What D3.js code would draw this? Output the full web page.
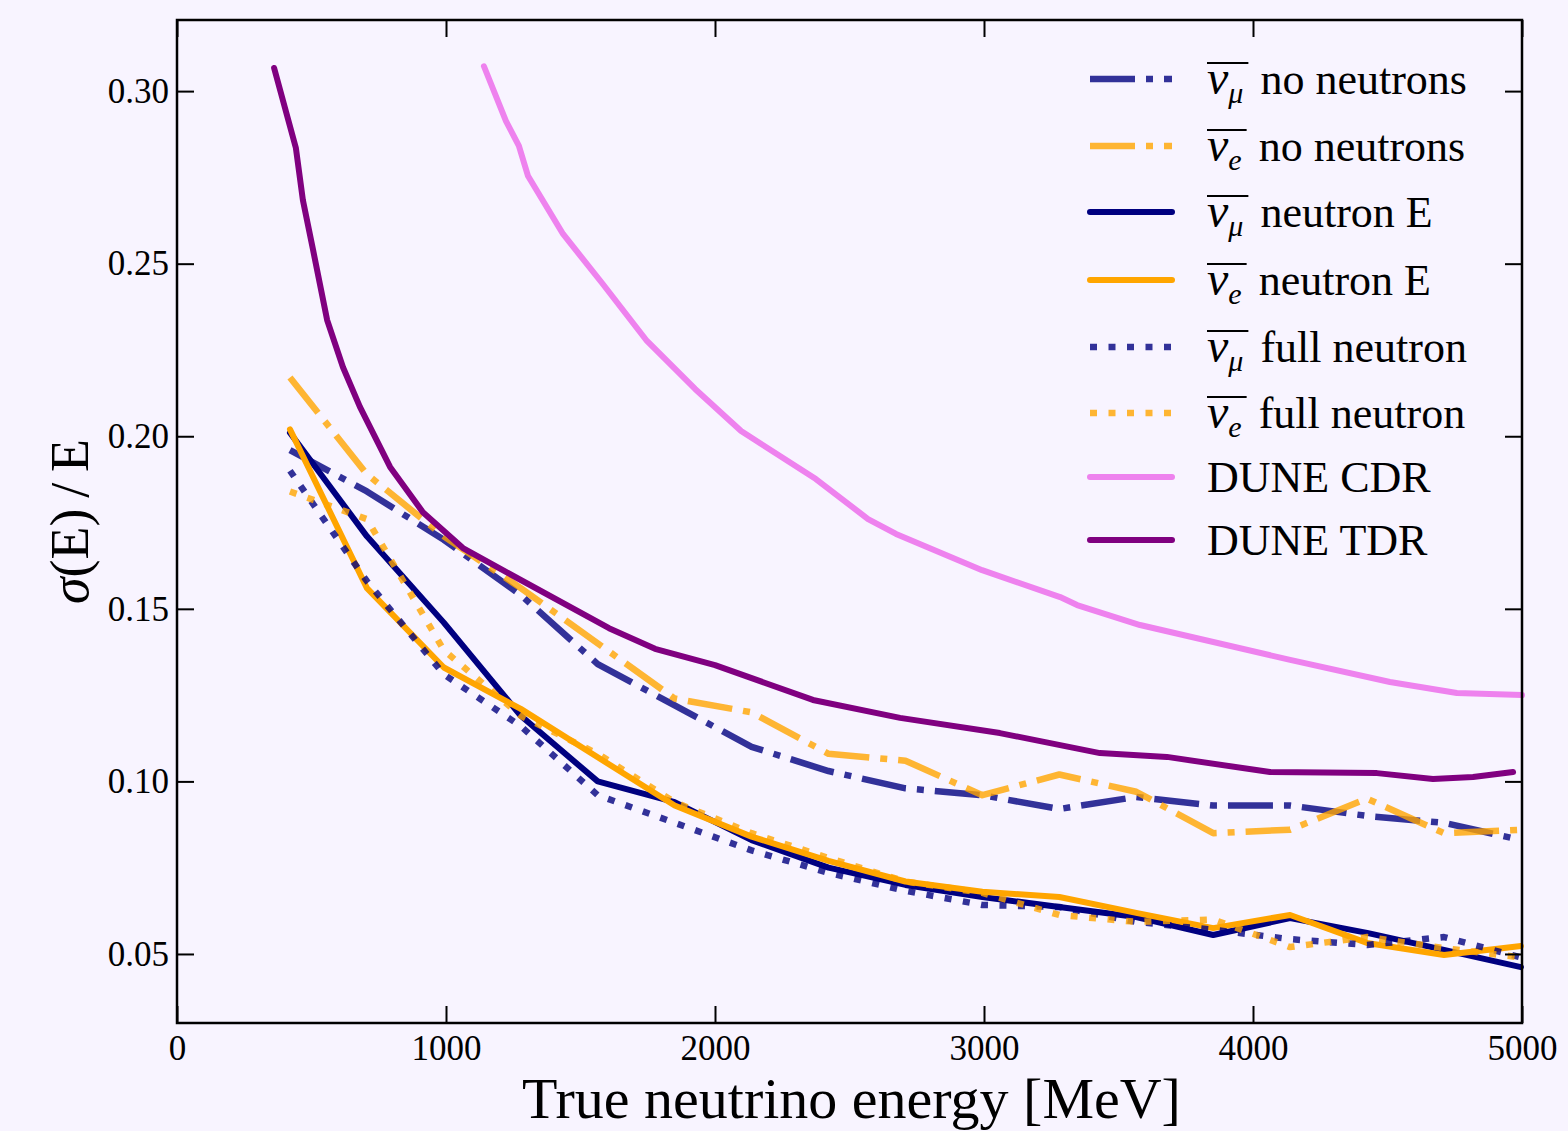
<!DOCTYPE html>
<html>
<head>
<meta charset="utf-8">
<script src="https://cdn.jsdelivr.net/npm/d3@7"></script>
<style>
  body { margin: 0; background: #f8f4ff; }
  svg { display: block; }
  text { font-family: "Liberation Serif", "DejaVu Serif", serif; fill: #000; }
</style>
</head>
<body>
<svg id="chart" width="1568" height="1131"></svg>
<script>
// bin centres (MeV) shared by the six reconstruction curves
const energyBins = [420, 706, 992, 1278, 1564, 1850, 2136, 2422, 2708, 2994, 3280, 3566, 3852, 4138, 4424, 4710, 4996];

const numuNoNeutrons = [0.196, 0.184, 0.170, 0.154, 0.134, 0.122, 0.110, 0.103, 0.098, 0.096, 0.092, 0.0955, 0.093, 0.093, 0.090, 0.088, 0.083];
const nueNoNeutrons  = [0.217, 0.189, 0.171, 0.156, 0.140, 0.124, 0.120, 0.108, 0.106, 0.096, 0.102, 0.097, 0.085, 0.086, 0.095, 0.085, 0.086];
const numuNeutronE   = [0.201, 0.171, 0.146, 0.119, 0.100, 0.094, 0.083, 0.075, 0.070, 0.0665, 0.0636, 0.0607, 0.0555, 0.0604, 0.0561, 0.0512, 0.0462];
const nueNeutronE    = [0.202, 0.156, 0.133, 0.121, 0.107, 0.093, 0.084, 0.077, 0.071, 0.068, 0.0665, 0.0619, 0.0575, 0.0613, 0.0532, 0.0497, 0.0523];
const numuFull       = [0.190, 0.158, 0.131, 0.116, 0.096, 0.088, 0.080, 0.0735, 0.0683, 0.0642, 0.0636, 0.0593, 0.057, 0.0543, 0.0526, 0.0549, 0.049];
const nueFull        = [0.184, 0.176, 0.138, 0.119, 0.108, 0.094, 0.085, 0.0778, 0.071, 0.0677, 0.0613, 0.0593, 0.060, 0.052, 0.0549, 0.0517, 0.049];

// DUNE reference curves
const cdrEnergy = [1141, 1223, 1271, 1305, 1435, 1580, 1747, 1926, 2097, 2375, 2569, 2673, 2993, 3283, 3346, 3580, 4138, 4509, 4758, 5000];
const cdrRes    = [0.3072, 0.2913, 0.2841, 0.2754, 0.2586, 0.2444, 0.2276, 0.2137, 0.2015, 0.1876, 0.1760, 0.1717, 0.1612, 0.1534, 0.1511, 0.1453, 0.1352, 0.1288, 0.1256, 0.1250];
const tdrEnergy = [361, 442, 468, 506, 558, 617, 680, 792, 914, 1063, 1223, 1606, 1777, 2000, 2364, 2688, 3059, 3431, 3680, 4063, 4461, 4669, 4818, 4967];
const tdrRes    = [0.3067, 0.2835, 0.2684, 0.2539, 0.2337, 0.2200, 0.2085, 0.1911, 0.1780, 0.1676, 0.1607, 0.1444, 0.1384, 0.1337, 0.1236, 0.1184, 0.1140, 0.1082, 0.1071, 0.1027, 0.1024, 0.1007, 0.1013, 0.1027];

const xTicks = [0, 1000, 2000, 3000, 4000, 5000];
const yTicks = [0.05, 0.10, 0.15, 0.20, 0.25, 0.30];

const legendSub  = ["μ", "e", "μ", "e", "μ", "e", null, null];
const legendText = ["no neutrons", "no neutrons", "neutron E", "neutron E", "full neutron", "full neutron", "DUNE CDR", "DUNE TDR"];

const margin = {top: 20, right: 46, bottom: 108, left: 177};
const W = 1568, H = 1131;
const iw = W - margin.left - margin.right;
const ih = H - margin.top - margin.bottom;

const svg = d3.select('#chart');
svg.append('rect').attr('width', W).attr('height', H).attr('fill', '#f8f4ff');

const g = svg.append('g').attr('transform', 'translate(' + margin.left + ',' + margin.top + ')');

const x = d3.scaleLinear().domain([0, 5000]).range([0, iw]);
const y = d3.scaleLinear().domain([0.03, 0.3206]).range([ih, 0]);

const navyA = 'rgba(0,0,128,0.8)';
const orangeA = 'rgba(255,165,0,0.8)';
const dashDot = '45,11,7,11';
const dotted = '7,11.5';

const series = [
  {xs: energyBins, ys: numuNoNeutrons, color: navyA, dash: dashDot, w: 6.5, cap: 'butt'},
  {xs: energyBins, ys: nueNoNeutrons, color: orangeA, dash: dashDot, w: 6.5, cap: 'butt'},
  {xs: energyBins, ys: numuNeutronE, color: '#000080', dash: null, w: 6, cap: 'round'},
  {xs: energyBins, ys: nueNeutronE, color: '#ffa500', dash: null, w: 6, cap: 'round'},
  {xs: energyBins, ys: numuFull, color: navyA, dash: dotted, w: 6.5, cap: 'butt'},
  {xs: energyBins, ys: nueFull, color: orangeA, dash: dotted, w: 6.5, cap: 'butt'},
  {xs: cdrEnergy, ys: cdrRes, color: '#ee82ee', dash: null, w: 6, cap: 'round'},
  {xs: tdrEnergy, ys: tdrRes, color: '#800080', dash: null, w: 6, cap: 'round'}
];

const line = d3.line()
  .x(function(d) { return x(d[0]); })
  .y(function(d) { return y(d[1]); });

const plot = g.append('g');
plot.selectAll('path')
  .data(series)
  .enter()
  .append('path')
  .attr('d', function(s) { return line(s.xs.map(function(v, i) { return [v, s.ys[i]]; })); })
  .attr('fill', 'none')
  .attr('stroke', function(s) { return s.color; })
  .attr('stroke-width', function(s) { return s.w; })
  .attr('stroke-dasharray', function(s) { return s.dash; })
  .attr('stroke-linecap', function(s) { return s.cap; })
  .attr('stroke-linejoin', 'round');

// axes: ticks inward on all four sides
const tickLen = 17;
function styleAxis(sel) {
  sel.select('.domain').remove();
  sel.selectAll('.tick line').attr('stroke', '#000').attr('stroke-width', 2);
  sel.selectAll('.tick text').style('font-size', '35px').style('font-family', '"Liberation Serif", serif');
}

g.append('g')
  .attr('transform', 'translate(0,' + ih + ')')
  .call(d3.axisBottom(x).tickValues(xTicks).tickSizeInner(-tickLen).tickPadding(12).tickFormat(d3.format('d')))
  .call(styleAxis);

g.append('g')
  .call(d3.axisTop(x).tickValues(xTicks).tickSizeInner(-tickLen).tickFormat(''))
  .call(styleAxis);

g.append('g')
  .call(d3.axisLeft(y).tickValues(yTicks).tickSizeInner(-tickLen).tickPadding(8).tickFormat(d3.format('.2f')))
  .call(styleAxis);

g.append('g')
  .attr('transform', 'translate(' + iw + ',0)')
  .call(d3.axisRight(y).tickValues(yTicks).tickSizeInner(-tickLen).tickFormat(''))
  .call(styleAxis);

g.append('rect')
  .attr('width', iw).attr('height', ih)
  .attr('fill', 'none').attr('stroke', '#000').attr('stroke-width', 2.5);

// axis titles
svg.append('text')
  .attr('x', margin.left + iw / 2 + 2).attr('y', 1118)
  .attr('text-anchor', 'middle')
  .style('font-size', '58px')
  .text('True neutrino energy [MeV]');

const yl = svg.append('text')
  .attr('transform', 'translate(88,' + (margin.top + ih / 2) + ') rotate(-90)')
  .attr('text-anchor', 'middle')
  .style('font-size', '54px');
yl.append('tspan').style('font-style', 'italic').text('σ');
yl.append('tspan').text('(E)\u2009/\u2009E');

// legend
const legendRowY = [79, 146, 212, 280, 347, 413, 477, 540];
const leg = svg.append('g');
series.forEach(function(s, i) {
  const ly = legendRowY[i];
  leg.append('line')
    .attr('x1', 1090).attr('x2', 1172).attr('y1', ly).attr('y2', ly)
    .attr('stroke', s.color).attr('stroke-width', s.w)
    .attr('stroke-dasharray', s.dash).attr('stroke-linecap', s.cap);

  const t = leg.append('text')
    .attr('x', 1207).attr('y', ly + 15)
    .style('font-size', '44px');
  if (legendSub[i]) {
    t.append('tspan').style('font-style', 'italic').style('font-size', '48px').text('ν');
    t.append('tspan').style('font-style', 'italic').style('font-size', '30px').attr('dy', 9).text(legendSub[i]);
    t.append('tspan').attr('dy', -9).attr('dx', 6).text(' ' + legendText[i]);
    const wBar = t.node().getSubStringLength(0, 2);
    leg.append('line')
      .attr('x1', 1207).attr('x2', 1207 + wBar + 5)
      .attr('y1', ly - 16).attr('y2', ly - 16)
      .attr('stroke', '#000').attr('stroke-width', 2);
  } else {
    t.text(legendText[i]);
  }
});
</script>
</body>
</html>
